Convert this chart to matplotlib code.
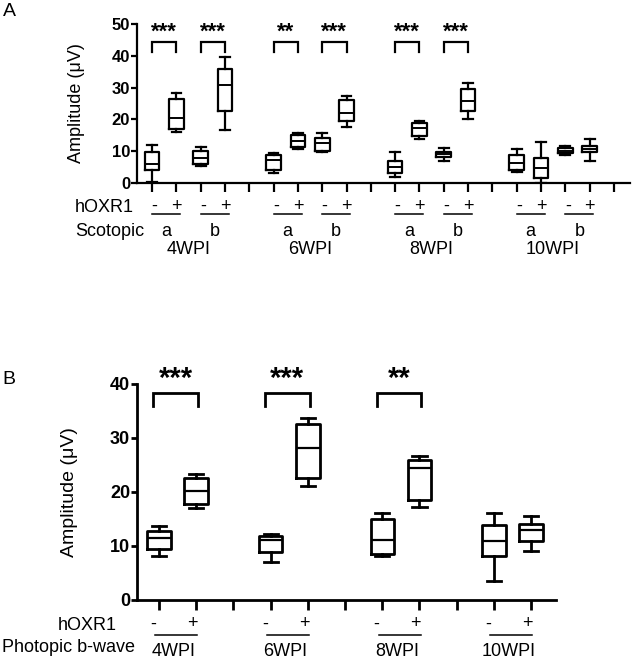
import matplotlib
matplotlib.use('Agg')
import matplotlib.pyplot as plt
from matplotlib.transforms import blended_transform_factory as btf

plt.rcParams['font.family'] = ['Liberation Sans', 'DejaVu Sans']

# ---------------- data ----------------
weeks = ['4WPI', '6WPI', '8WPI', '10WPI']
a_waves = ['a', 'b']
signs = ['-', '+']

# Panel A (order: week -> wave a/b -> hOXR1 -/+)
a_whislo = [0.4, 15.9, 5.3, 16.7, 3.0, 10.6, 9.6, 17.6, 2.0, 13.8, 6.9, 20.1, 3.5, 0.0, 8.8, 7.0]
a_q1     = [4.1, 17.0, 6.0, 22.6, 4.0, 11.2, 10.1, 19.6, 3.0, 14.8, 8.1, 22.6, 4.0, 1.5, 9.3, 9.6]
a_med    = [6.0, 20.5, 8.0, 30.8, 7.1, 13.3, 12.5, 21.9, 5.1, 17.2, 9.1, 25.8, 6.3, 4.6, 10.2, 10.6]
a_q3     = [9.6, 26.4, 10.0, 35.7, 8.8, 15.1, 14.0, 26.1, 6.9, 19.0, 9.8, 29.7, 8.8, 7.8, 10.9, 11.6]
a_whishi = [12.0, 28.4, 11.4, 39.7, 9.3, 15.8, 15.6, 27.5, 9.6, 19.6, 11.1, 31.5, 10.7, 12.8, 11.6, 13.8]
a_stars  = ['***', '***', '**', '***', '***', '***', '', '']
a_yticks = [0, 10, 20, 30, 40, 50]

# Panel B (order: week -> hOXR1 -/+)
b_whislo = [8.0, 17.0, 6.9, 21.1, 8.0, 17.1, 3.4, 9.0]
b_q1     = [9.4, 17.8, 8.9, 22.5, 8.5, 18.5, 8.1, 10.9]
b_med    = [11.5, 20.2, 11.1, 28.1, 11.1, 24.4, 10.9, 12.9]
b_q3     = [12.8, 22.5, 11.8, 32.6, 14.9, 25.9, 13.8, 14.0]
b_whishi = [13.7, 23.3, 12.1, 33.7, 16.0, 26.7, 16.0, 15.5]
b_stars  = ['***', '***', '**', '']
b_yticks = [0, 10, 20, 30, 40]

W, H = 633, 664
fig = plt.figure(figsize=(W / 100, H / 100), dpi=100)


def fy(px):
    return 1 - px / H


def make_stats(lo, q1, med, q3, hi):
    return [dict(whislo=a, q1=b, med=c, q3=d, whishi=e, fliers=[])
            for a, b, c, d, e in zip(lo, q1, med, q3, hi)]


def style_axes(ax, yticks, ytick_size, xtick_len):
    for s in ['top', 'right']:
        ax.spines[s].set_visible(False)
    for s in ['left', 'bottom']:
        ax.spines[s].set_linewidth(1.6)
    ax.set_yticks(yticks)
    ax.set_yticklabels([str(t) for t in yticks], fontweight='bold', fontsize=ytick_size)
    ax.tick_params(axis='y', direction='out', length=4, width=1.6, pad=1)
    ax.tick_params(axis='x', direction='out', length=xtick_len, width=1.6, labelbottom=False)


# ---------------- Panel A ----------------
axA = fig.add_axes([137 / W, fy(183), (630 - 137) / W, (183 - 24) / H])
a_pos = [w * 5 + v * 2 + s for w in range(4) for v in range(2) for s in range(2)]
box_kw = dict(color='black', linewidth=1.6)
axA.bxp(make_stats(a_whislo, a_q1, a_med, a_q3, a_whishi), positions=a_pos,
        widths=0.6, capwidths=0.4, showfliers=False, patch_artist=False,
        boxprops=box_kw, medianprops=dict(color='black', linewidth=1.4),
        whiskerprops=box_kw, capprops=box_kw, manage_ticks=False)
axA.set_xlim(-0.62, 19.66)
axA.set_ylim(0, 50)
axA.set_xticks(range(20))
style_axes(axA, a_yticks, 12, 6.5)
axA.set_ylabel('Amplitude (μV)', fontsize=13)
axA.yaxis.set_label_coords((85 - 137) / (630 - 137), 0.5)

for i, st in enumerate(a_stars):
    if not st:
        continue
    p0 = a_pos[2 * i]
    p1 = a_pos[2 * i + 1]
    axA.plot([p0, p0, p1, p1], [41.3, 44.2, 44.2, 41.3], color='black', lw=1.6,
             clip_on=False, solid_joinstyle='miter')
    axA.text((p0 + p1) / 2, 47.3, st, ha='center', va='center', fontsize=16,
             fontweight='bold', clip_on=False)

trA = btf(axA.transData, fig.transFigure)
fig.text(75 / W, fy(207), 'hOXR1', ha='left', va='center', fontsize=13)
fig.text(75 / W, fy(231), 'Scotopic', ha='left', va='center', fontsize=13)
for i in range(8):
    p0 = a_pos[2 * i]
    p1 = a_pos[2 * i + 1]
    fig.text(p0 + 0.1, fy(206), signs[0], transform=trA, ha='center', va='center', fontsize=13)
    fig.text(p1, fy(206), signs[1], transform=trA, ha='center', va='center', fontsize=13)
    axA.plot([p0, p1 + 0.15], [fy(214)] * 2, transform=trA, color='black', lw=1.1, clip_on=False)
    fig.text((p0 + p1 + 0.15) / 2, fy(231), a_waves[i % 2], transform=trA,
             ha='center', va='center', fontsize=13)
for w, name in enumerate(weeks):
    fig.text(w * 5 + 1.5, fy(250), name, transform=trA, ha='center', va='center', fontsize=13)

fig.text(9 / W, fy(12), 'A', ha='center', va='center', fontsize=14)

# ---------------- Panel B ----------------
axB = fig.add_axes([137 / W, fy(599.5), (556 - 137) / W, (599.5 - 384) / H])
b_pos = [w * 3 + s for w in range(4) for s in range(2)]
box_kw_b = dict(color='black', linewidth=2.0)
axB.bxp(make_stats(b_whislo, b_q1, b_med, b_q3, b_whishi), positions=b_pos,
        widths=0.63, capwidths=0.38, showfliers=False, patch_artist=False,
        boxprops=box_kw_b, medianprops=dict(color='black', linewidth=1.6),
        whiskerprops=box_kw_b, capprops=box_kw_b, manage_ticks=False)
axB.set_xlim(-0.59, 10.67)
axB.set_ylim(0, 40)
axB.set_xticks(range(11))
style_axes(axB, b_yticks, 13, 7.5)
for s in ['left', 'bottom']:
    axB.spines[s].set_linewidth(2.0)
axB.tick_params(width=2.0)
axB.set_ylabel('Amplitude (μV)', fontsize=14)
axB.yaxis.set_label_coords((78 - 137) / (556 - 137), 0.5)

for i, st in enumerate(b_stars):
    if not st:
        continue
    p0 = b_pos[2 * i]
    p1 = b_pos[2 * i + 1]
    axB.plot([p0 - 0.15, p0 - 0.15, p1 + 0.05, p1 + 0.05], [36.0, 38.3, 38.3, 36.0],
             color='black', lw=2.0, clip_on=False, solid_joinstyle='miter')
    axB.text((p0 + p1) / 2 - 0.05, 41.0, st, ha='center', va='center', fontsize=21,
             fontweight='bold', clip_on=False)

trB = btf(axB.transData, fig.transFigure)
fig.text(58 / W, fy(625), 'hOXR1', ha='left', va='center', fontsize=13)
fig.text(2 / W, fy(648), 'Photopic b-wave', ha='left', va='center', fontsize=13)
for i in range(4):
    p0 = b_pos[2 * i]
    p1 = b_pos[2 * i + 1]
    fig.text(p0 - 0.15, fy(624), signs[0], transform=trB, ha='center', va='center', fontsize=13)
    fig.text(p1 - 0.1, fy(624), signs[1], transform=trB, ha='center', va='center', fontsize=13)
    axB.plot([p0 - 0.1, p1 + 0.03], [fy(635)] * 2, transform=trB, color='black', lw=1.1, clip_on=False)
    fig.text((p0 + p1) / 2 - 0.1, fy(652), weeks[i], transform=trB,
             ha='center', va='center', fontsize=13)

fig.text(9 / W, fy(379), 'B', ha='center', va='center', fontsize=14)

fig.savefig('out.png', dpi=100)
